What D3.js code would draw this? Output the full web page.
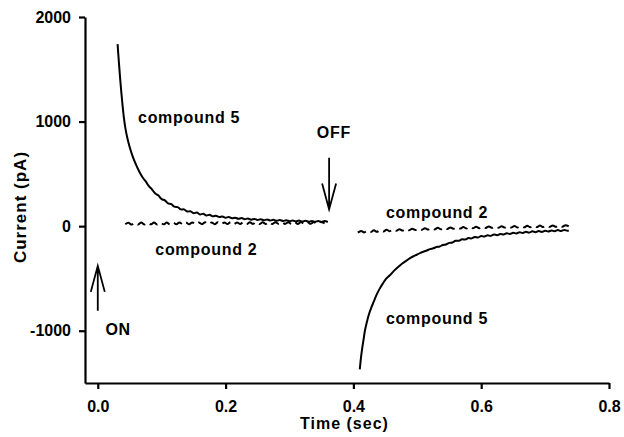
<!DOCTYPE html>
<html lang="en">
<head>
    <meta charset="UTF-8">
    <title>Current traces - compound 2 and compound 5</title>
    <script src="https://d3js.org/d3.v7.min.js"></script>
    <style>
        body { margin: 0; background: #fff; }
        svg text { font-family: "Liberation Sans", Arial, sans-serif; font-weight: bold; fill: #000; }
        .axis path, .axis line { stroke: #000; stroke-width: 2.2px; }
        .axis text { font-size: 16px; }
        .trace { fill: none; stroke: #000; stroke-width: 2px; }
        .label { font-size: 16px; letter-spacing: 0.7px; }
    </style>
</head>
<body>
<div id="chart"></div>
<script>
    // Compound 5, agonist applied (ON) - [time sec, current pA]
    const c5On = [
        [0.031,1740],[0.033,1570],[0.035,1410],[0.037,1270],[0.039,1140],[0.041,1030],[0.043,945],
        [0.046,850],[0.050,755],[0.055,660],[0.060,585],[0.065,520],[0.070,468],[0.075,428],
        [0.080,382],[0.085,350],[0.090,312],[0.095,292],[0.100,258],[0.105,246],[0.110,218],
        [0.115,210],[0.120,186],[0.125,182],[0.130,160],[0.135,160],[0.140,140],[0.145,143],
        [0.150,124],[0.155,130],[0.160,112],[0.165,118],[0.170,102],[0.175,108],[0.180,94],
        [0.185,100],[0.190,87],[0.195,93],[0.200,80],[0.205,87],[0.210,75],[0.215,81],[0.220,70],
        [0.225,77],[0.230,66],[0.235,73],[0.240,62],[0.245,69],[0.250,59],[0.255,66],[0.260,56],
        [0.265,63],[0.270,54],[0.275,61],[0.280,51],[0.285,59],[0.290,49],[0.295,57],[0.300,47],
        [0.305,55],[0.310,45],[0.315,53],[0.320,44],[0.325,52],[0.330,42],[0.335,50],[0.340,41],
        [0.345,49],[0.350,40],[0.355,48],[0.360,40]
    ];

    // Compound 2, agonist applied (ON)
    const c2On = [
        [0.043,18],[0.048,33],[0.053,15],[0.058,32],[0.063,16],[0.068,34],[0.073,15],[0.078,32],
        [0.083,17],[0.088,35],[0.093,16],[0.098,33],[0.103,17],[0.108,35],[0.113,16],[0.118,33],
        [0.123,18],[0.128,36],[0.133,17],[0.138,34],[0.143,18],[0.148,36],[0.153,17],[0.158,35],
        [0.163,19],[0.168,37],[0.173,18],[0.178,35],[0.183,19],[0.188,37],[0.193,18],[0.198,36],
        [0.203,20],[0.208,38],[0.213,19],[0.218,36],[0.223,20],[0.228,38],[0.233,19],[0.238,37],
        [0.243,21],[0.248,38],[0.253,20],[0.258,37],[0.263,21],[0.268,39],[0.273,20],[0.278,38],
        [0.283,22],[0.288,39],[0.293,21],[0.298,38],[0.303,22],[0.308,40],[0.313,21],[0.318,39],
        [0.323,23],[0.328,40],[0.333,22],[0.338,39],[0.343,23],[0.348,40],[0.355,26]
    ];

    // Compound 5, agonist removed (OFF)
    const c5Off = [
        [0.410,-1370],[0.412,-1250],[0.414,-1160],[0.416,-1080],[0.418,-1000],[0.421,-920],
        [0.424,-850],[0.428,-780],[0.432,-720],[0.436,-660],[0.441,-600],[0.446,-550],
        [0.451,-505],[0.457,-470],[0.463,-430],[0.470,-390],[0.477,-355],[0.483,-330],
        [0.490,-300],[0.497,-280],[0.505,-255],[0.514,-235],[0.520,-220],[0.525,-212],
        [0.530,-200],[0.535,-195],[0.540,-180],[0.545,-176],[0.550,-160],[0.555,-156],
        [0.560,-140],[0.565,-140],[0.570,-126],[0.575,-128],[0.580,-114],[0.585,-117],
        [0.590,-104],[0.595,-108],[0.600,-95],[0.605,-100],[0.610,-88],[0.615,-93],[0.620,-80],
        [0.625,-86],[0.630,-74],[0.635,-80],[0.640,-68],[0.645,-75],[0.650,-63],[0.655,-70],
        [0.660,-58],[0.665,-66],[0.670,-54],[0.675,-62],[0.680,-50],[0.685,-58],[0.690,-47],
        [0.695,-55],[0.700,-44],[0.705,-52],[0.710,-41],[0.715,-49],[0.720,-38],[0.725,-47],
        [0.730,-36],[0.735,-44],[0.737,-40]
    ];

    // Compound 2, agonist removed (OFF)
    const c2Off = [
        [0.407,-62],[0.412,-46],[0.417,-60],[0.422,-44],[0.427,-57],[0.432,-40],[0.437,-54],
        [0.442,-38],[0.447,-51],[0.452,-35],[0.457,-48],[0.462,-32],[0.467,-45],[0.472,-29],
        [0.477,-42],[0.482,-27],[0.487,-40],[0.492,-25],[0.497,-37],[0.502,-22],[0.507,-35],
        [0.512,-20],[0.517,-33],[0.522,-18],[0.527,-31],[0.532,-16],[0.537,-29],[0.542,-14],
        [0.547,-27],[0.552,-12],[0.557,-25],[0.562,-10],[0.567,-23],[0.572,-9],[0.577,-22],
        [0.582,-7],[0.587,-20],[0.592,-6],[0.597,-19],[0.602,-4],[0.607,-17],[0.612,-3],
        [0.617,-16],[0.622,-2],[0.627,-15],[0.632,-1],[0.637,-14],[0.642,0],[0.647,-13],
        [0.652,1],[0.657,-12],[0.662,2],[0.667,-11],[0.672,3],[0.677,-10],[0.682,4],[0.687,-9],
        [0.692,5],[0.697,-8],[0.702,6],[0.707,-7],[0.712,7],[0.717,-6],[0.722,8],[0.727,-5],
        [0.732,9],[0.737,-3]
    ];

    const xTicks = [0, 0.2, 0.4, 0.6, 0.8];
    const yTicks = [-1000, 0, 1000, 2000];

    // text annotations (time, current)
    const labels = [
        { text: "compound 5", t: 0.063, v: 990 },
        { text: "compound 2", t: 0.090, v: -276 },
        { text: "compound 2", t: 0.451, v: 80 },
        { text: "compound 5", t: 0.451, v: -935 }
    ];
    // ON / OFF arrows (time, tail current, tip current)
    const arrows = [
        { text: "ON", t: 0.0, from: -810, to: -380, lt: 0.012, lv: -1045 },
        { text: "OFF", t: 0.362, from: 655, to: 160, lt: 0.3695, lv: 840 }
    ];

    const svgWidth = 624, svgHeight = 437;
    const margin = { top: 17, right: 15, bottom: 54, left: 85 };
    const width = svgWidth - margin.left - margin.right;
    const height = svgHeight - margin.top - margin.bottom;

    const svg = d3.select("#chart").append("svg")
        .attr("width", svgWidth)
        .attr("height", svgHeight);

    const g = svg.append("g").attr("transform", `translate(${margin.left},${margin.top})`);

    const x = d3.scaleLinear().domain([-0.02, 0.8]).range([0, 524]);
    const y = d3.scaleLinear().domain([-1500, 2000]).range([height, 0]);

    g.append("g")
        .attr("class", "axis")
        .attr("transform", `translate(0,${height})`)
        .call(d3.axisBottom(x).tickValues(xTicks).tickFormat(d3.format(".1f"))
            .tickSize(6).tickSizeOuter(0).tickPadding(12));

    g.append("g")
        .attr("class", "axis")
        .call(d3.axisLeft(y).tickValues(yTicks).tickFormat(d => String(d))
            .tickSize(6).tickSizeOuter(0).tickPadding(8));

    // axis titles
    svg.append("text")
        .attr("x", margin.left + x(0.386))
        .attr("y", 429)
        .attr("text-anchor", "middle")
        .style("font-size", "16px")
        .style("letter-spacing", "1px")
        .text("Time (sec)");

    svg.append("text")
        .attr("transform", "translate(26,207) rotate(-90)")
        .attr("text-anchor", "middle")
        .style("font-size", "17px")
        .style("letter-spacing", "1px")
        .text("Current (pA)");

    const line = d3.line()
        .x(d => x(d[0]))
        .y(d => y(d[1]))
        .curve(d3.curveCatmullRom);

    [c5On, c5Off].forEach(data => {
        g.append("path").datum(data).attr("class", "trace").attr("d", line);
    });
    [c2On, c2Off].forEach(data => {
        g.append("path").datum(data).attr("class", "trace")
            .attr("stroke-dasharray", "9,5").attr("d", line);
    });

    labels.forEach(d => {
        g.append("text").attr("class", "label")
            .attr("x", x(d.t)).attr("y", y(d.v))
            .text(d.text);
    });

    const headLen = 26, headHalf = 7;
    arrows.forEach(d => {
        const ax = x(d.t), y0 = y(d.from), y1 = y(d.to);
        const dir = y1 < y0 ? 1 : -1;   // head points up (1) or down (-1)
        const hy = y1 + dir * headLen;
        g.append("path")
            .attr("d", `M${ax},${y0}L${ax},${y1}M${ax - headHalf},${hy}L${ax},${y1}L${ax + headHalf},${hy}`)
            .attr("fill", "none").attr("stroke", "#000").attr("stroke-width", 1.8);
        g.append("text").attr("class", "label")
            .attr("x", x(d.lt)).attr("y", y(d.lv))
            .attr("text-anchor", d.text === "OFF" ? "middle" : "start")
            .text(d.text);
    });
</script>
</body>
</html>
